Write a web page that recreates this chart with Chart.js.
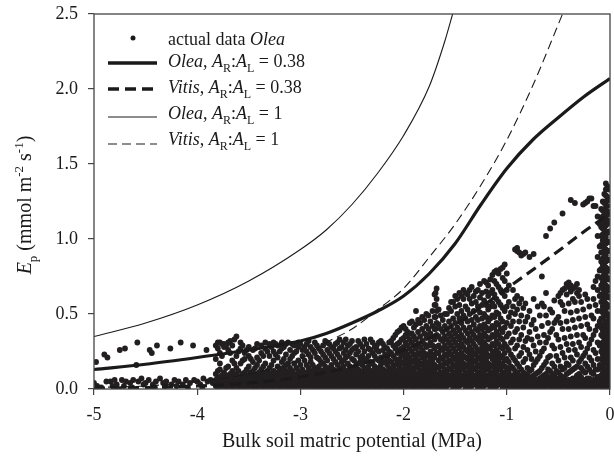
<!DOCTYPE html>
<html>
<head>
<meta charset="utf-8">
<script src="https://cdn.jsdelivr.net/npm/chart.js@4/dist/chart.umd.min.js"></script>
<style>
html, body { margin: 0; padding: 0; background: #fff; }
#wrap { width: 614px; height: 457px; }
</style>
</head>
<body>
<div id="wrap"><canvas id="chart" width="614" height="457"></canvas></div>
<script>
// Model curves (x = bulk soil matric potential in MPa, y = Ep)
const oleaLowX = [-5, -4.5, -4, -3.5, -3, -2.75, -2.5, -2.25, -2, -1.75, -1.5, -1.25, -1, -0.75, -0.5, -0.25, 0];
const oleaLowY = [0.13, 0.165, 0.21, 0.26, 0.32, 0.37, 0.44, 0.52, 0.62, 0.77, 0.97, 1.23, 1.47, 1.66, 1.81, 1.95, 2.07];

const vitisLowX = [-5, -4.5, -4, -3.5, -3, -2.5, -2, -1.5, -1, -0.5, -0.25, 0];
const vitisLowY = [0.005, 0.01, 0.02, 0.04, 0.08, 0.15, 0.26, 0.43, 0.67, 0.92, 1.05, 1.17];

const oleaOneX = [-5, -4.5, -4, -3.5, -3, -2.75, -2.5, -2.25, -2, -1.75, -1.6, -1.525];
const oleaOneY = [0.35, 0.44, 0.56, 0.72, 0.93, 1.06, 1.23, 1.44, 1.69, 2.02, 2.32, 2.5];

const vitisOneX = [-5, -4.5, -4, -3.5, -3, -2.75, -2.5, -2.25, -2, -1.75, -1.5, -1.25, -1, -0.75, -0.46];
const vitisOneY = [0.01, 0.02, 0.05, 0.1, 0.2, 0.31, 0.4, 0.53, 0.67, 0.88, 1.1, 1.36, 1.66, 2.02, 2.5];

// Measured Olea points, sparse part on the dry side
const obsSparseX = [-5.00, -4.98, -4.97, -4.95, -4.93, -4.90, -4.88, -4.87, -4.84, -4.82, -4.80, -4.78, -4.75, -4.73, -4.71, -4.70,
  -4.69, -4.65, -4.63, -4.62, -4.59, -4.58, -4.57, -4.54, -4.52, -4.50, -4.47, -4.46, -4.44, -4.43, -4.41, -4.40, -4.39, -4.36,
  -4.33, -4.31, -4.30, -4.26, -4.25, -4.22, -4.20, -4.18, -4.16, -4.14, -4.11, -4.09, -4.07, -4.04, -4.03, -4.00, -3.97, -3.95,
  -3.94, -3.91, -3.90, -3.87, -3.85];
const obsSparseY = [0.04, 0.18, 0.02, 0.00, 0.01, 0.23, 0.05, 0.21, 0.05, 0.02, 0.06, 0.03, 0.26, 0.06, 0.02, 0.27,
  0.05, 0.04, 0.01, 0.06, 0.16, 0.31, 0.05, 0.07, 0.03, 0.04, 0.06, 0.26, 0.24, 0.03, 0.01, 0.05, 0.29, 0.07,
  0.04, 0.02, 0.05, 0.27, 0.03, 0.06, 0.02, 0.05, 0.31, 0.03, 0.06, 0.01, 0.04, 0.29, 0.06, 0.05, 0.03, 0.01,
  0.07, 0.26, 0.05, 0.06, 0.04];

// Measured Olea points, dense part, column by column: [potential, [Ep values]]
const obsCols = [
  [-3.82, [0.02, 0.06, 0.10, 0.20, 0.29]],
  [-3.80, [0.00, 0.03, 0.07, 0.12, 0.27, 0.31]],
  [-3.78, [0.01, 0.04, 0.08, 0.13, 0.17, 0.24, 0.31]],
  [-3.76, [0.02, 0.05, 0.09, 0.22, 0.30]],
  [-3.74, [0.03, 0.06, 0.11, 0.28, 0.30]],
  [-3.72, [0.01, 0.04, 0.08, 0.14, 0.29]],
  [-3.70, [0.02, 0.05, 0.09, 0.15, 0.26, 0.31]],
  [-3.68, [0.03, 0.06, 0.10, 0.24, 0.32]],
  [-3.66, [0.01, 0.04, 0.07, 0.12, 0.19, 0.29]],
  [-3.64, [0.02, 0.05, 0.09, 0.17, 0.33]],
  [-3.62, [0.03, 0.06, 0.10, 0.14, 0.22, 0.35]],
  [-3.60, [0.00, 0.04, 0.08, 0.12, 0.25]],
  [-3.58, [0.02, 0.05, 0.08, 0.17, 0.27, 0.31]],
  [-3.56, [0.03, 0.06, 0.10, 0.19, 0.29]],
  [-3.54, [0.01, 0.04, 0.07, 0.11, 0.20, 0.24]],
  [-3.52, [0.01, 0.05, 0.09, 0.13, 0.26]],
  [-3.50, [0.03, 0.06, 0.09, 0.15, 0.22, 0.28]],
  [-3.48, [0.02, 0.04, 0.07, 0.11, 0.20]],
  [-3.46, [0.02, 0.05, 0.08, 0.12, 0.18, 0.26]],
  [-3.44, [0.00, 0.03, 0.06, 0.09, 0.14, 0.27]],
  [-3.42, [0.01, 0.04, 0.07, 0.10, 0.16, 0.21, 0.30]],
  [-3.40, [0.02, 0.05, 0.08, 0.11, 0.19]],
  [-3.38, [0.03, 0.06, 0.09, 0.13, 0.24, 0.29]],
  [-3.36, [0.01, 0.04, 0.07, 0.10, 0.15, 0.22]],
  [-3.34, [0.02, 0.05, 0.08, 0.11, 0.17, 0.27, 0.31]],
  [-3.32, [0.03, 0.06, 0.09, 0.12, 0.25]],
  [-3.30, [0.01, 0.04, 0.07, 0.10, 0.14, 0.22, 0.30]],
  [-3.28, [0.00, 0.03, 0.06, 0.10, 0.16, 0.28]],
  [-3.26, [0.02, 0.05, 0.08, 0.12, 0.19, 0.25, 0.31]],
  [-3.24, [0.02, 0.05, 0.08, 0.11, 0.23, 0.30]],
  [-3.22, [0.03, 0.06, 0.09, 0.15, 0.21, 0.29]],
  [-3.20, [0.01, 0.04, 0.07, 0.10, 0.13, 0.25]],
  [-3.18, [0.01, 0.04, 0.07, 0.11, 0.18, 0.27, 0.31]],
  [-3.16, [0.03, 0.06, 0.09, 0.14, 0.20, 0.28]],
  [-3.14, [0.02, 0.05, 0.08, 0.12, 0.16, 0.23, 0.30]],
  [-3.12, [0.00, 0.02, 0.05, 0.08, 0.11, 0.17, 0.31]],
  [-3.10, [0.03, 0.06, 0.09, 0.14, 0.20, 0.26]],
  [-3.08, [0.01, 0.04, 0.07, 0.12, 0.22, 0.30]],
  [-3.06, [0.01, 0.04, 0.07, 0.10, 0.17, 0.24, 0.29]],
  [-3.04, [0.03, 0.06, 0.09, 0.14, 0.25]],
  [-3.02, [0.02, 0.05, 0.08, 0.12, 0.19, 0.28, 0.31]],
  [-3.00, [0.00, 0.02, 0.05, 0.08, 0.11, 0.16, 0.30]],
  [-2.98, [0.03, 0.06, 0.09, 0.13, 0.22, 0.26]],
  [-2.96, [0.01, 0.04, 0.07, 0.10, 0.19, 0.28]],
  [-2.94, [0.01, 0.04, 0.07, 0.11, 0.16, 0.25, 0.30]],
  [-2.92, [0.03, 0.06, 0.09, 0.14, 0.23, 0.32]],
  [-2.90, [0.02, 0.05, 0.08, 0.12, 0.18, 0.21, 0.28]],
  [-2.88, [0.00, 0.02, 0.05, 0.08, 0.11, 0.16, 0.26]],
  [-2.86, [0.03, 0.06, 0.09, 0.14, 0.24, 0.31]],
  [-2.84, [0.01, 0.04, 0.07, 0.10, 0.13, 0.21, 0.29]],
  [-2.82, [0.01, 0.04, 0.07, 0.10, 0.15, 0.20, 0.27]],
  [-2.80, [0.03, 0.06, 0.09, 0.12, 0.18, 0.25]],
  [-2.78, [0.02, 0.05, 0.08, 0.12, 0.17, 0.23, 0.29]],
  [-2.76, [0.00, 0.02, 0.05, 0.08, 0.11, 0.15, 0.21, 0.32]],
  [-2.74, [0.03, 0.06, 0.09, 0.13, 0.19, 0.26, 0.31]],
  [-2.72, [0.01, 0.04, 0.07, 0.10, 0.14, 0.24, 0.30]],
  [-2.70, [0.01, 0.04, 0.07, 0.11, 0.16, 0.22, 0.28]],
  [-2.68, [0.03, 0.06, 0.09, 0.13, 0.20, 0.27]],
  [-2.66, [0.02, 0.05, 0.08, 0.12, 0.18, 0.25, 0.30]],
  [-2.64, [0.00, 0.02, 0.05, 0.08, 0.11, 0.16, 0.23, 0.31]],
  [-2.62, [0.03, 0.06, 0.09, 0.14, 0.21, 0.27, 0.33]],
  [-2.60, [0.01, 0.04, 0.07, 0.10, 0.13, 0.18, 0.28]],
  [-2.58, [0.01, 0.04, 0.07, 0.10, 0.15, 0.19, 0.24, 0.31]],
  [-2.56, [0.03, 0.06, 0.09, 0.12, 0.21, 0.26, 0.33]],
  [-2.54, [0.02, 0.05, 0.08, 0.12, 0.17, 0.22, 0.29]],
  [-2.52, [0.00, 0.02, 0.05, 0.08, 0.11, 0.15, 0.24, 0.30]],
  [-2.50, [0.03, 0.06, 0.09, 0.13, 0.20, 0.26, 0.32]],
  [-2.48, [0.01, 0.04, 0.07, 0.10, 0.14, 0.19, 0.27]],
  [-2.46, [0.01, 0.04, 0.07, 0.11, 0.16, 0.23, 0.28]],
  [-2.44, [0.03, 0.06, 0.09, 0.13, 0.17, 0.25, 0.32]],
  [-2.42, [0.02, 0.05, 0.08, 0.12, 0.18, 0.21, 0.30]],
  [-2.40, [0.00, 0.02, 0.05, 0.08, 0.11, 0.16, 0.22, 0.28]],
  [-2.38, [0.03, 0.06, 0.09, 0.14, 0.19, 0.25, 0.33]],
  [-2.36, [0.01, 0.04, 0.07, 0.10, 0.13, 0.20, 0.30]],
  [-2.34, [0.01, 0.04, 0.07, 0.10, 0.15, 0.22, 0.27]],
  [-2.32, [0.03, 0.06, 0.09, 0.12, 0.18, 0.26, 0.33]],
  [-2.30, [0.02, 0.05, 0.08, 0.12, 0.17, 0.24, 0.31]],
  [-2.28, [0.00, 0.02, 0.05, 0.08, 0.11, 0.15, 0.22, 0.28]],
  [-2.26, [0.03, 0.06, 0.09, 0.13, 0.20, 0.26, 0.29]],
  [-2.24, [0.01, 0.04, 0.07, 0.10, 0.14, 0.19, 0.25, 0.31]],
  [-2.22, [0.01, 0.04, 0.07, 0.11, 0.16, 0.21, 0.32]],
  [-2.20, [0.03, 0.06, 0.09, 0.13, 0.18, 0.26, 0.30]],
  [-2.18, [0.02, 0.05, 0.08, 0.12, 0.18, 0.23, 0.28]],
  [-2.16, [0.00, 0.02, 0.05, 0.08, 0.11, 0.16, 0.21, 0.27]],
  [-2.14, [0.03, 0.06, 0.09, 0.14, 0.19, 0.25, 0.31]],
  [-2.12, [0.01, 0.04, 0.07, 0.10, 0.13, 0.18, 0.24, 0.32]],
  [-2.10, [0.01, 0.04, 0.07, 0.10, 0.15, 0.22, 0.29, 0.34]],
  [-2.08, [0.03, 0.06, 0.09, 0.12, 0.16, 0.20, 0.27, 0.36]],
  [-2.06, [0.02, 0.05, 0.08, 0.12, 0.17, 0.24, 0.30, 0.38]],
  [-2.04, [0.00, 0.02, 0.05, 0.08, 0.11, 0.15, 0.20, 0.26, 0.31, 0.39]],
  [-2.02, [0.03, 0.06, 0.09, 0.13, 0.18, 0.23, 0.27, 0.33, 0.41]],
  [-2.00, [0.01, 0.04, 0.07, 0.10, 0.13, 0.17, 0.22, 0.28, 0.34, 0.42]],
  [-1.98, [0.01, 0.04, 0.07, 0.11, 0.15, 0.20, 0.25, 0.31, 0.36, 0.40]],
  [-1.96, [0.03, 0.06, 0.09, 0.13, 0.18, 0.23, 0.29, 0.35, 0.38]],
  [-1.94, [0.02, 0.05, 0.08, 0.12, 0.16, 0.21, 0.27, 0.33, 0.44]],
  [-1.92, [0.00, 0.02, 0.05, 0.08, 0.11, 0.14, 0.19, 0.25, 0.31, 0.37, 0.45]],
  [-1.90, [0.03, 0.06, 0.09, 0.13, 0.18, 0.23, 0.29, 0.35, 0.41]],
  [-1.88, [0.01, 0.04, 0.07, 0.10, 0.16, 0.21, 0.27, 0.33, 0.43, 0.52]],
  [-1.86, [0.01, 0.04, 0.07, 0.10, 0.14, 0.19, 0.24, 0.30, 0.38, 0.46]],
  [-1.84, [0.03, 0.06, 0.09, 0.12, 0.17, 0.23, 0.28, 0.35, 0.44]],
  [-1.82, [0.02, 0.05, 0.08, 0.12, 0.16, 0.21, 0.26, 0.32, 0.40, 0.48]],
  [-1.80, [0.00, 0.02, 0.05, 0.08, 0.11, 0.15, 0.19, 0.24, 0.30, 0.37, 0.46]],
  [-1.78, [0.03, 0.06, 0.09, 0.13, 0.17, 0.22, 0.28, 0.34, 0.42, 0.50]],
  [-1.76, [0.01, 0.04, 0.07, 0.10, 0.14, 0.18, 0.23, 0.29, 0.36, 0.40, 0.49]],
  [-1.74, [0.01, 0.04, 0.07, 0.11, 0.15, 0.20, 0.25, 0.31, 0.37, 0.45]],
  [-1.72, [0.03, 0.06, 0.09, 0.13, 0.18, 0.23, 0.29, 0.35, 0.42, 0.52]],
  [-1.70, [0.02, 0.05, 0.08, 0.12, 0.16, 0.21, 0.27, 0.33, 0.40, 0.48, 0.56, 0.63]],
  [-1.69, [0.05, 0.15, 0.28, 0.40, 0.48, 0.56, 0.64]],
  [-1.68, [0.00, 0.10, 0.24, 0.36, 0.44, 0.52, 0.60, 0.67]],
  [-1.66, [0.03, 0.06, 0.09, 0.14, 0.19, 0.24, 0.29, 0.35, 0.43, 0.53]],
  [-1.64, [0.00, 0.02, 0.05, 0.08, 0.11, 0.16, 0.21, 0.27, 0.33, 0.40, 0.49]],
  [-1.62, [0.01, 0.04, 0.07, 0.11, 0.15, 0.20, 0.26, 0.32, 0.38, 0.46]],
  [-1.60, [0.01, 0.04, 0.07, 0.10, 0.13, 0.18, 0.23, 0.29, 0.35, 0.42, 0.50]],
  [-1.58, [0.02, 0.05, 0.08, 0.12, 0.17, 0.22, 0.27, 0.33, 0.40, 0.50]],
  [-1.56, [0.03, 0.06, 0.09, 0.14, 0.19, 0.25, 0.31, 0.37, 0.45, 0.54]],
  [-1.54, [0.03, 0.06, 0.09, 0.13, 0.18, 0.23, 0.29, 0.35, 0.42, 0.52, 0.58]],
  [-1.52, [0.00, 0.02, 0.05, 0.08, 0.11, 0.16, 0.21, 0.27, 0.33, 0.39, 0.47, 0.58]],
  [-1.50, [0.01, 0.04, 0.07, 0.11, 0.15, 0.20, 0.25, 0.31, 0.37, 0.44, 0.55, 0.62]],
  [-1.48, [0.01, 0.04, 0.07, 0.10, 0.13, 0.18, 0.23, 0.29, 0.35, 0.41, 0.50, 0.60]],
  [-1.46, [0.02, 0.05, 0.08, 0.12, 0.16, 0.21, 0.27, 0.33, 0.39, 0.47, 0.56, 0.64]],
  [-1.44, [0.03, 0.06, 0.09, 0.14, 0.19, 0.24, 0.30, 0.36, 0.44, 0.52, 0.62]],
  [-1.42, [0.03, 0.06, 0.09, 0.13, 0.17, 0.22, 0.28, 0.34, 0.41, 0.49, 0.60, 0.66]],
  [-1.40, [0.00, 0.02, 0.05, 0.08, 0.11, 0.16, 0.21, 0.26, 0.32, 0.39, 0.47, 0.55, 0.64]],
  [-1.38, [0.01, 0.04, 0.07, 0.11, 0.15, 0.20, 0.25, 0.31, 0.37, 0.45, 0.53, 0.63]],
  [-1.36, [0.01, 0.04, 0.07, 0.10, 0.13, 0.18, 0.23, 0.28, 0.34, 0.41, 0.50, 0.60, 0.66]],
  [-1.34, [0.02, 0.05, 0.08, 0.12, 0.16, 0.21, 0.26, 0.32, 0.38, 0.46, 0.57, 0.68]],
  [-1.32, [0.03, 0.06, 0.09, 0.14, 0.19, 0.24, 0.30, 0.36, 0.43, 0.52, 0.62]],
  [-1.30, [0.03, 0.06, 0.09, 0.13, 0.18, 0.23, 0.28, 0.34, 0.40, 0.48, 0.58, 0.65]],
  [-1.28, [0.00, 0.02, 0.05, 0.08, 0.11, 0.16, 0.21, 0.26, 0.33, 0.39, 0.46, 0.55, 0.66]],
  [-1.26, [0.01, 0.04, 0.07, 0.11, 0.15, 0.20, 0.25, 0.31, 0.36, 0.42, 0.51, 0.61, 0.70]],
  [-1.24, [0.01, 0.04, 0.07, 0.10, 0.13, 0.18, 0.23, 0.28, 0.34, 0.40, 0.47, 0.56, 0.64]],
  [-1.22, [0.02, 0.05, 0.08, 0.12, 0.16, 0.21, 0.26, 0.31, 0.37, 0.43, 0.50, 0.59, 0.72]],
  [-1.20, [0.03, 0.06, 0.09, 0.14, 0.19, 0.24, 0.29, 0.35, 0.41, 0.48, 0.56, 0.65, 0.71]],
  [-1.18, [0.03, 0.06, 0.09, 0.13, 0.17, 0.22, 0.27, 0.33, 0.39, 0.45, 0.53, 0.62, 0.69]],
  [-1.16, [0.00, 0.02, 0.05, 0.08, 0.11, 0.16, 0.22, 0.28, 0.34, 0.40, 0.47, 0.55, 0.64, 0.73]],
  [-1.14, [0.01, 0.04, 0.07, 0.11, 0.15, 0.20, 0.25, 0.30, 0.36, 0.42, 0.49, 0.57, 0.66, 0.76]],
  [-1.12, [0.01, 0.04, 0.07, 0.10, 0.13, 0.18, 0.23, 0.29, 0.35, 0.41, 0.48, 0.55, 0.63, 0.72, 0.78]],
  [-1.10, [0.02, 0.05, 0.08, 0.12, 0.16, 0.21, 0.26, 0.32, 0.38, 0.44, 0.51, 0.60, 0.70, 0.79]],
  [-1.08, [0.03, 0.06, 0.09, 0.14, 0.19, 0.24, 0.30, 0.36, 0.43, 0.50, 0.58, 0.68, 0.77]],
  [-1.06, [0.03, 0.06, 0.09, 0.13, 0.17, 0.22, 0.28, 0.34, 0.40, 0.47, 0.56, 0.66, 0.80]],
  [-1.04, [0.00, 0.02, 0.05, 0.08, 0.11, 0.16, 0.21, 0.27, 0.33, 0.38, 0.45, 0.54, 0.64, 0.74, 0.81]],
  [-1.02, [0.01, 0.04, 0.07, 0.11, 0.15, 0.19, 0.24, 0.30, 0.41, 0.52, 0.62, 0.72, 0.83]],
  [-1.00, [0.01, 0.04, 0.07, 0.10, 0.14, 0.20, 0.28, 0.35, 0.44, 0.55, 0.66, 0.77]],
  [-0.98, [0.02, 0.05, 0.08, 0.12, 0.18, 0.26, 0.37, 0.48, 0.58, 0.69]],
  [-0.96, [0.00, 0.03, 0.06, 0.09, 0.15, 0.23, 0.31, 0.42, 0.51]],
  [-0.94, [0.03, 0.06, 0.09, 0.14, 0.21, 0.33, 0.45, 0.55, 0.66]],
  [-0.92, [0.02, 0.05, 0.08, 0.12, 0.19, 0.27, 0.38, 0.50, 0.60, 0.93]],
  [-0.90, [0.01, 0.04, 0.07, 0.11, 0.17, 0.29, 0.40, 0.53, 0.62, 0.92, 0.94]],
  [-0.88, [0.00, 0.03, 0.06, 0.09, 0.15, 0.22, 0.33, 0.45, 0.57, 0.91]],
  [-0.86, [0.02, 0.05, 0.08, 0.13, 0.24, 0.36, 0.49, 0.60, 0.89]],
  [-0.84, [0.01, 0.04, 0.07, 0.11, 0.18, 0.28, 0.41, 0.54, 0.90]],
  [-0.82, [0.03, 0.06, 0.10, 0.20, 0.32, 0.45, 0.57, 0.91]],
  [-0.80, [0.00, 0.03, 0.06, 0.09, 0.14, 0.26, 0.34, 0.48]],
  [-0.78, [0.01, 0.04, 0.07, 0.12, 0.23, 0.38, 0.52, 0.88]],
  [-0.76, [0.02, 0.05, 0.08, 0.13, 0.20, 0.33, 0.43]],
  [-0.74, [0.02, 0.05, 0.09, 0.16, 0.29, 0.46, 0.60, 0.90]],
  [-0.72, [0.00, 0.03, 0.06, 0.10, 0.18, 0.25, 0.40]],
  [-0.70, [0.03, 0.06, 0.11, 0.20, 0.35, 0.55]],
  [-0.68, [0.01, 0.04, 0.07, 0.12, 0.22, 0.31, 0.49]],
  [-0.66, [0.01, 0.04, 0.08, 0.14, 0.25, 0.42, 0.57, 0.75]],
  [-0.64, [0.00, 0.03, 0.06, 0.09, 0.16, 0.27, 0.36, 0.55]],
  [-0.62, [0.02, 0.05, 0.10, 0.18, 0.31, 0.49, 0.64, 1.02]],
  [-0.60, [0.02, 0.05, 0.08, 0.13, 0.21, 0.34, 0.44]],
  [-0.58, [0.03, 0.07, 0.12, 0.22, 0.38, 0.53, 1.07]],
  [-0.56, [0.00, 0.03, 0.06, 0.10, 0.17, 0.29, 0.40, 0.51]],
  [-0.54, [0.01, 0.04, 0.09, 0.15, 0.27, 0.44, 0.59, 1.11]],
  [-0.52, [0.01, 0.04, 0.07, 0.12, 0.22, 0.36, 0.46]],
  [-0.50, [0.02, 0.06, 0.11, 0.19, 0.33, 0.48, 0.62]],
  [-0.48, [0.00, 0.03, 0.06, 0.09, 0.15, 0.28, 0.44, 0.58, 0.64]],
  [-0.46, [0.03, 0.07, 0.13, 0.24, 0.40, 0.56, 0.66, 1.17]],
  [-0.44, [0.02, 0.05, 0.08, 0.14, 0.21, 0.34, 0.52, 0.67]],
  [-0.42, [0.01, 0.05, 0.10, 0.17, 0.30, 0.45, 0.63, 0.70]],
  [-0.40, [0.00, 0.03, 0.06, 0.11, 0.16, 0.26, 0.40, 0.57, 0.68, 0.71]],
  [-0.38, [0.02, 0.06, 0.12, 0.21, 0.35, 0.51, 0.65, 0.69, 1.26]],
  [-0.36, [0.01, 0.04, 0.07, 0.13, 0.19, 0.30, 0.46, 0.60, 0.67]],
  [-0.34, [0.03, 0.07, 0.14, 0.26, 0.41, 0.58, 0.68, 1.24]],
  [-0.32, [0.00, 0.03, 0.06, 0.09, 0.15, 0.23, 0.36, 0.52, 0.64, 0.70]],
  [-0.30, [0.01, 0.05, 0.10, 0.18, 0.31, 0.47, 0.62, 0.66]],
  [-0.28, [0.02, 0.05, 0.08, 0.14, 0.20, 0.28, 0.42, 0.58]],
  [-0.26, [0.02, 0.06, 0.12, 0.22, 0.36, 0.53, 1.23]],
  [-0.24, [0.00, 0.03, 0.06, 0.11, 0.17, 0.24, 0.34, 0.48, 0.63, 1.24]],
  [-0.22, [0.03, 0.07, 0.15, 0.27, 0.43, 0.60, 1.25]],
  [-0.20, [0.01, 0.04, 0.07, 0.13, 0.21, 0.30, 0.40, 0.55, 1.27]],
  [-0.18, [0.01, 0.05, 0.11, 0.19, 0.33, 0.49, 1.27]],
  [-0.16, [0.00, 0.03, 0.06, 0.10, 0.16, 0.26, 0.36, 0.47, 0.60, 0.68, 1.22]],
  [-0.14, [0.02, 0.06, 0.13, 0.24, 0.39, 0.56, 0.72, 1.22]],
  [-0.12, [0.02, 0.05, 0.08, 0.13, 0.20, 0.31, 0.42, 0.52, 0.66, 0.75, 0.88, 1.02, 1.15]],
  [-0.10, [0.03, 0.08, 0.16, 0.29, 0.45, 0.62, 0.79, 0.95, 1.10]],
  [-0.085, [0.01, 0.05, 0.09, 0.14, 0.20, 0.25, 0.30, 0.36, 0.41, 0.47, 0.52, 0.58, 0.63, 0.69, 0.74, 0.80,
            0.85, 0.91, 0.96, 1.02, 1.08, 1.14, 1.20]],
  [-0.07, [0.03, 0.07, 0.11, 0.15, 0.19, 0.23, 0.27, 0.31, 0.35, 0.39, 0.43, 0.47, 0.51, 0.55, 0.59,
           0.63, 0.67, 0.71, 0.75, 0.79, 0.83, 0.87, 0.91, 0.95, 0.99, 1.03, 1.07, 1.11, 1.15, 1.19, 1.25]],
  [-0.055, [0.00, 0.04, 0.08, 0.12, 0.17, 0.22, 0.27, 0.32, 0.38, 0.43, 0.49, 0.54, 0.60, 0.65, 0.71, 0.77,
            0.82, 0.88, 0.94, 1.00, 1.06, 1.12, 1.18, 1.24, 1.30]],
  [-0.04, [0.01, 0.05, 0.09, 0.13, 0.17, 0.21, 0.25, 0.29, 0.33, 0.37, 0.41, 0.45, 0.49, 0.53, 0.57, 0.61,
           0.65, 0.69, 0.73, 0.77, 0.81, 0.85, 0.89, 0.93, 0.97, 1.01, 1.05, 1.09, 1.13, 1.17, 1.21, 1.25, 1.29, 1.33, 1.37]],
  [-0.025, [0.03, 0.08, 0.13, 0.18, 0.23, 0.28, 0.34, 0.39, 0.45, 0.50, 0.56, 0.62, 0.68, 0.74, 0.80, 0.86,
            0.92, 0.98, 1.04, 1.10, 1.16, 1.22, 1.28, 1.35]],
  [-0.01, [0.02, 0.06, 0.10, 0.15, 0.20, 0.26, 0.31, 0.37, 0.42, 0.48, 0.55, 0.61, 0.66, 0.73, 0.79,
           0.86, 0.92, 0.98, 1.05, 1.12, 1.18, 1.26, 1.33]]
];

const xTickVals = [-5, -4, -3, -2, -1, 0];
const yTickVals = [0, 0.5, 1.0, 1.5, 2.0, 2.5];

const serif = '"Liberation Serif", "Times New Roman", serif';
const ink = '#1a1a1a';

function pairs(xs, ys) {
    return xs.map((x, i) => ({ x: x, y: ys[i] }));
}

// Flatten the measured points
const obsPoints = pairs(obsSparseX, obsSparseY);
obsCols.forEach(col => {
    col[1].forEach(y => obsPoints.push({ x: col[0], y: y }));
});

// Legend entries (text parts: it = italic, sub = subscript)
const ratioParts = (genus, val) => [
    { t: genus, it: true }, { t: ', ' }, { t: 'A', it: true }, { t: 'R', sub: true },
    { t: ':' }, { t: 'A', it: true }, { t: 'L', sub: true }, { t: ' = ' + val }
];
const legendRows = [
    { parts: [{ t: 'actual data ' }, { t: 'Olea', it: true }], dot: true },
    { parts: ratioParts('Olea', '0.38'), width: 3.4, dash: [] },
    { parts: ratioParts('Vitis', '0.38'), width: 3.4, dash: [11, 6] },
    { parts: ratioParts('Olea', '1'), width: 1.1, dash: [] },
    { parts: ratioParts('Vitis', '1'), width: 1.1, dash: [9, 5] }
];

function drawParts(ctx, parts, x, y, size) {
    let cx = x;
    parts.forEach(p => {
        const small = p.sub || p.sup;
        const sz = small ? Math.round(size * 0.66) : size;
        ctx.font = (p.it ? 'italic ' : '') + sz + 'px ' + serif;
        const dy = p.sub ? size * 0.3 : (p.sup ? -size * 0.4 : 0);
        ctx.fillText(p.t, cx, y + dy);
        cx += ctx.measureText(p.t).width;
    });
    return cx - x;
}

function partsWidth(ctx, parts, size) {
    let w = 0;
    parts.forEach(p => {
        const sz = (p.sub || p.sup) ? Math.round(size * 0.66) : size;
        ctx.font = (p.it ? 'italic ' : '') + sz + 'px ' + serif;
        w += ctx.measureText(p.t).width;
    });
    return w;
}

const decorPlugin = {
    id: 'decor',
    afterDatasetsDraw(chart) {
        const ctx = chart.ctx;
        const a = chart.chartArea;
        ctx.save();

        // frame around the plot
        ctx.strokeStyle = '#444';
        ctx.lineWidth = 1.3;
        ctx.strokeRect(a.left, a.top, a.right - a.left, a.bottom - a.top);

        // legend
        const rowText = [45, 67, 93, 119, 145];
        const rowMark = [38, 63, 89, 117, 144];
        ctx.fillStyle = ink;
        ctx.textAlign = 'left';
        ctx.textBaseline = 'alphabetic';
        legendRows.forEach((row, i) => {
            if (row.dot) {
                ctx.beginPath();
                ctx.arc(133, rowMark[i], 2.5, 0, Math.PI * 2);
                ctx.fill();
            } else {
                ctx.beginPath();
                ctx.setLineDash(row.dash);
                ctx.lineWidth = row.width;
                ctx.strokeStyle = ink;
                ctx.moveTo(108, rowMark[i]);
                ctx.lineTo(157, rowMark[i]);
                ctx.stroke();
                ctx.setLineDash([]);
            }
            drawParts(ctx, row.parts, 168, rowText[i], 18);
        });

        // y axis title
        const yTitle = [
            { t: 'E', it: true }, { t: 'p', sub: true }, { t: ' (mmol m' }, { t: '-2', sup: true },
            { t: ' s' }, { t: '-1', sup: true }, { t: ')' }
        ];
        const w = partsWidth(ctx, yTitle, 20);
        ctx.translate(31, 205);
        ctx.rotate(-Math.PI / 2);
        drawParts(ctx, yTitle, -w / 2, 0, 20);
        ctx.restore();

        // x axis title
        ctx.save();
        ctx.fillStyle = ink;
        ctx.font = '20px ' + serif;
        ctx.textAlign = 'center';
        ctx.fillText('Bulk soil matric potential (MPa)', (a.left + a.right) / 2, 447);
        ctx.restore();
    }
};

function curve(data, width, dash) {
    return {
        type: 'line',
        data: data,
        borderColor: ink,
        borderWidth: width,
        borderDash: dash,
        pointRadius: 0,
        fill: false,
        cubicInterpolationMode: 'monotone'
    };
}

new Chart(document.getElementById('chart'), {
    type: 'scatter',
    data: {
        datasets: [
            curve(pairs(oleaLowX, oleaLowY), 3.2, []),
            curve(pairs(vitisLowX, vitisLowY), 3.2, [11, 6]),
            curve(pairs(oleaOneX, oleaOneY), 1.1, []),
            curve(pairs(vitisOneX, vitisOneY), 1.1, [9, 5]),
            {
                type: 'scatter',
                data: obsPoints,
                pointRadius: 2.9,
                pointBackgroundColor: '#231f20',
                pointBorderWidth: 0,
                order: 10
            }
        ]
    },
    options: {
        responsive: false,
        devicePixelRatio: 1,
        animation: false,
        layout: { padding: { left: 0, right: 2, top: 14, bottom: 0 } },
        plugins: {
            legend: { display: false },
            tooltip: { enabled: false }
        },
        scales: {
            x: {
                type: 'linear',
                min: -5,
                max: 0,
                afterBuildTicks(scale) { scale.ticks = xTickVals.map(v => ({ value: v })); },
                afterFit(scale) { scale.height = 68; scale.paddingLeft = 0; scale.paddingRight = 0; },
                ticks: {
                    color: ink,
                    font: { family: serif, size: 18 },
                    padding: 9,
                    maxRotation: 0,
                    callback: v => String(v)
                },
                grid: { display: true, drawOnChartArea: false, drawTicks: true, tickLength: 6, color: '#444', lineWidth: 1.2 },
                border: { display: false }
            },
            y: {
                type: 'linear',
                min: 0,
                max: 2.5,
                afterBuildTicks(scale) { scale.ticks = yTickVals.map(v => ({ value: v })); },
                afterFit(scale) { scale.width = 94; scale.paddingTop = 0; scale.paddingBottom = 0; },
                ticks: {
                    color: ink,
                    font: { family: serif, size: 18 },
                    padding: 10,
                    callback: v => v.toFixed(1)
                },
                grid: { display: true, drawOnChartArea: false, drawTicks: true, tickLength: 6, color: '#444', lineWidth: 1.2 },
                border: { display: false }
            }
        }
    },
    plugins: [decorPlugin]
});
</script>
</body>
</html>
